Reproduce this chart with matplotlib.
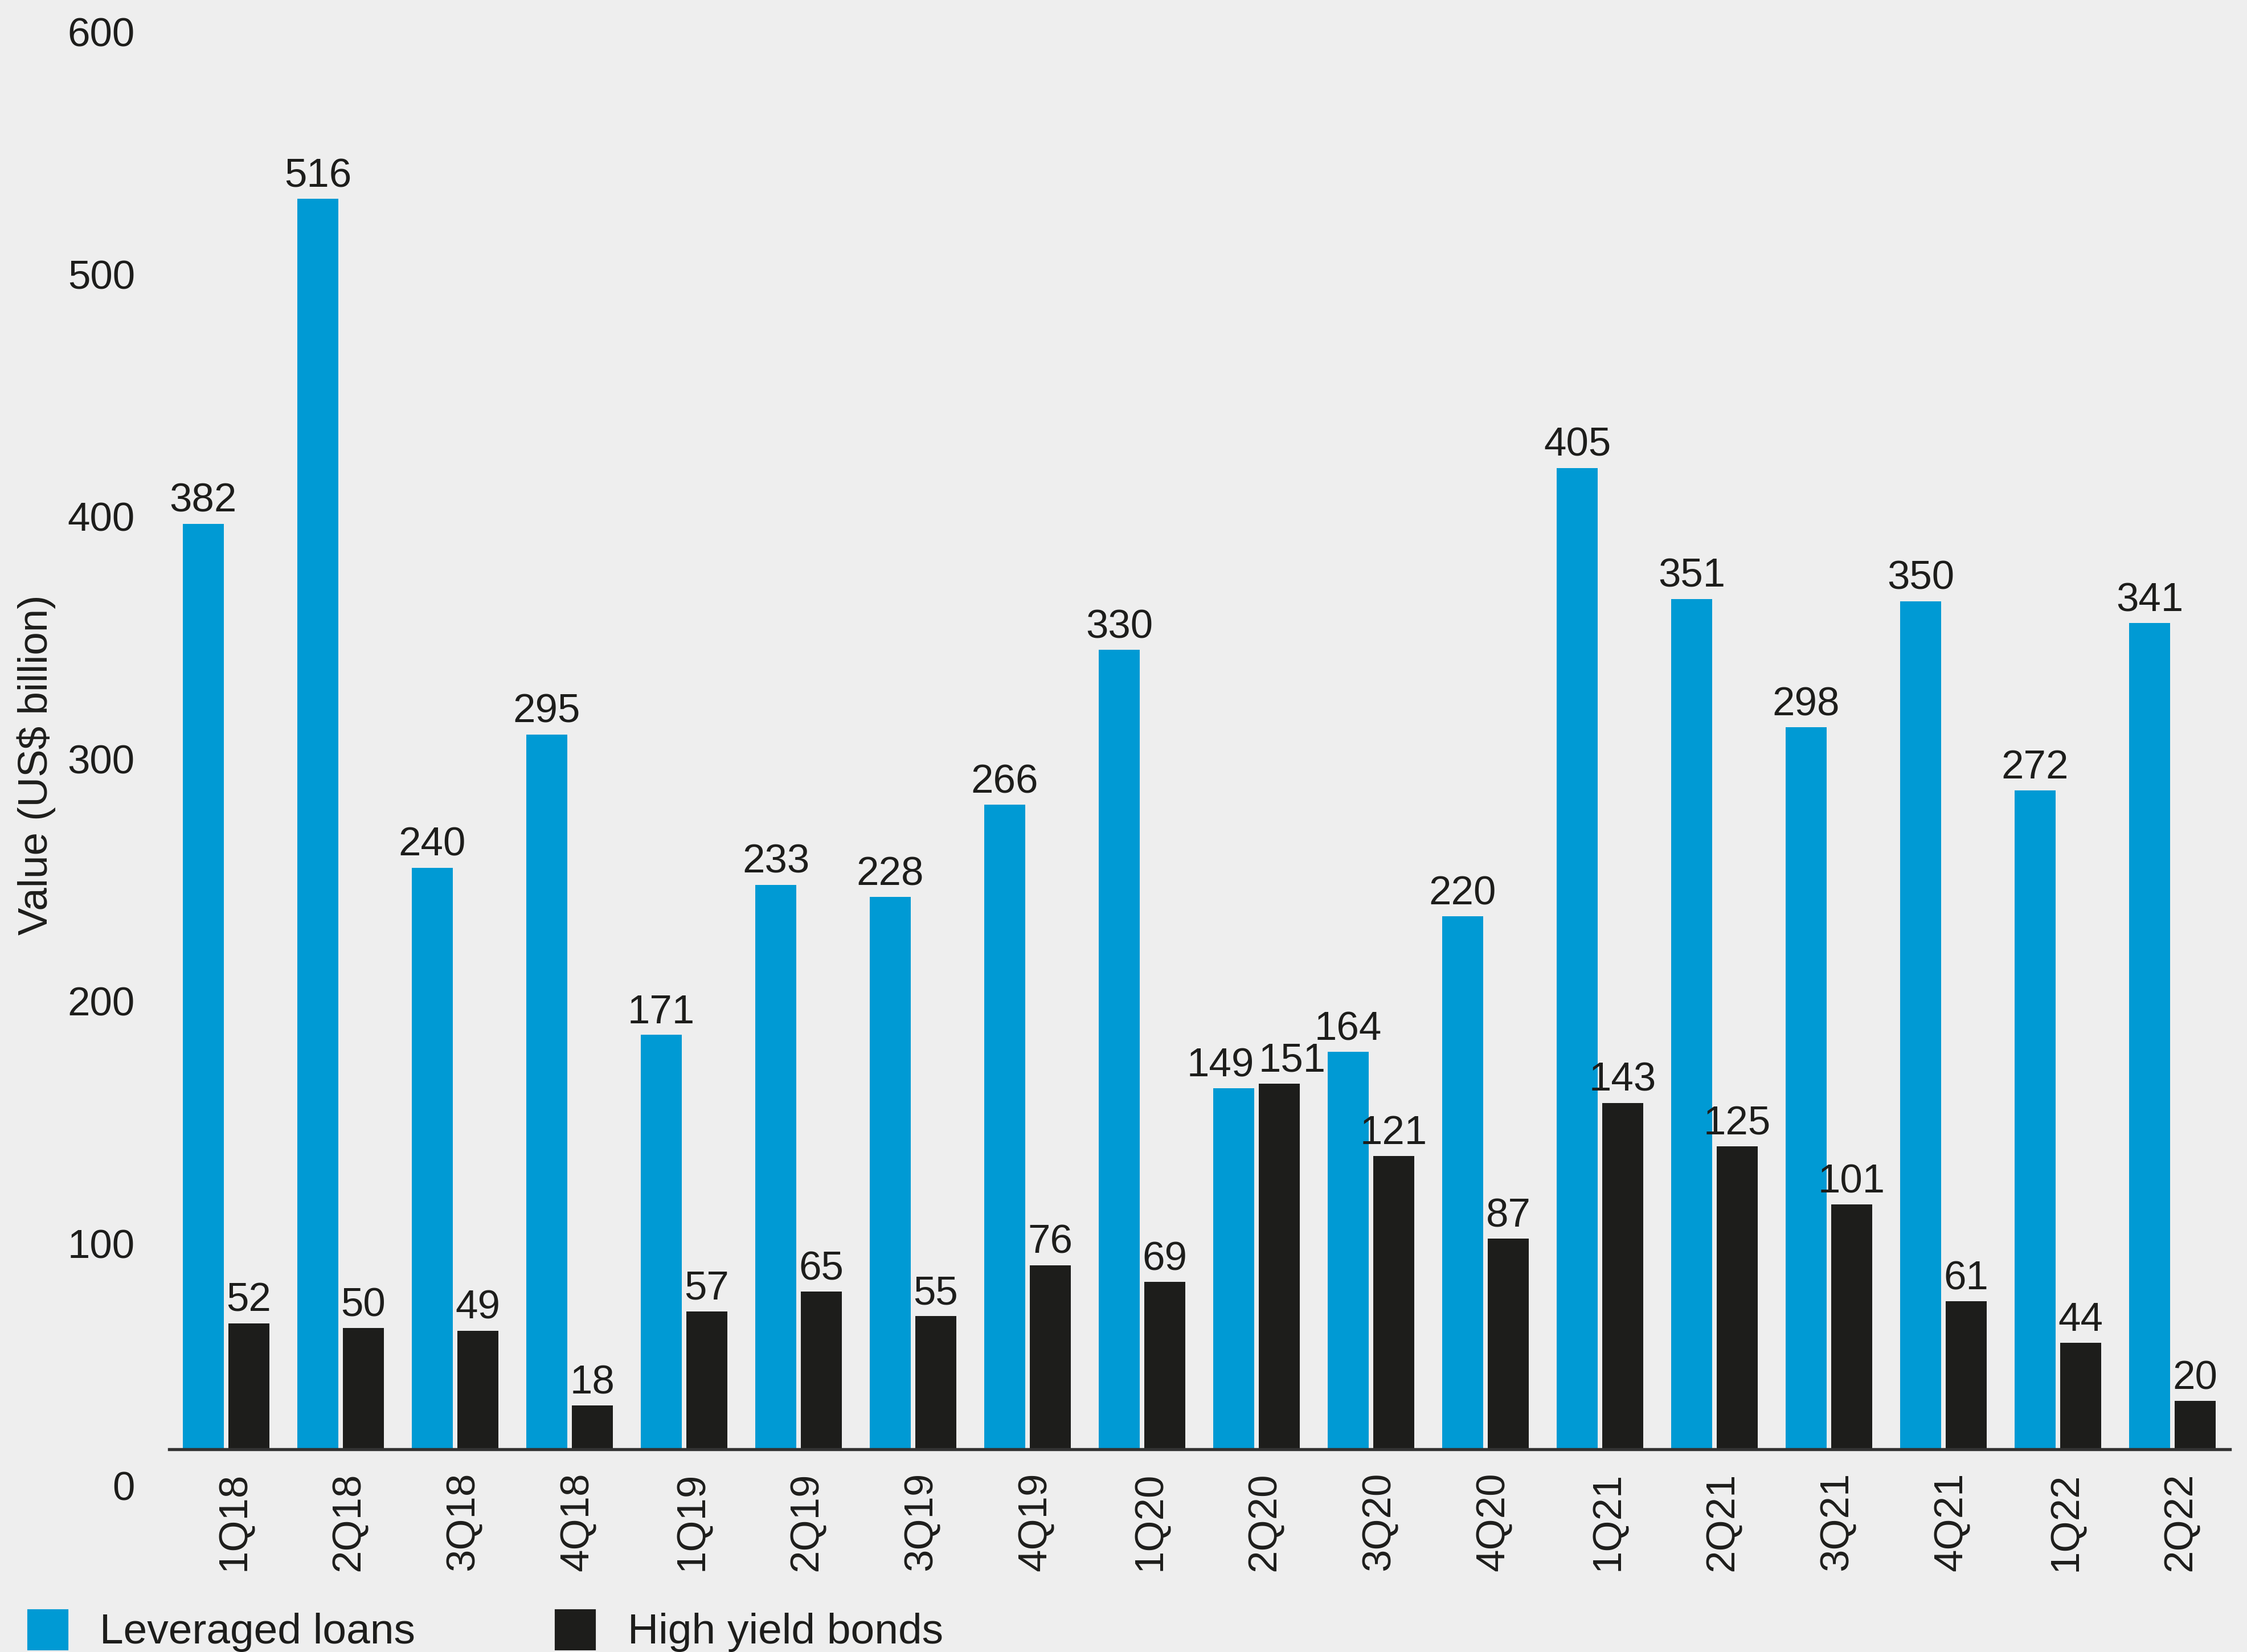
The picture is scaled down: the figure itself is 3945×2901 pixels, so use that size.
import numpy as np
import matplotlib
matplotlib.use("Agg")
import matplotlib.pyplot as plt
from matplotlib.transforms import ScaledTranslation
from matplotlib.patches import Rectangle

quarters = ["1Q18", "2Q18", "3Q18", "4Q18", "1Q19", "2Q19", "3Q19", "4Q19", "1Q20",
            "2Q20", "3Q20", "4Q20", "1Q21", "2Q21", "3Q21", "4Q21", "1Q22", "2Q22"]
leveraged_loans = [382, 516, 240, 295, 171, 233, 228, 266, 330,
                   149, 164, 220, 405, 351, 298, 350, 272, 341]
high_yield_bonds = [52, 50, 49, 18, 57, 65, 55, 76, 69,
                    151, 121, 87, 143, 125, 101, 61, 44, 20]
y_ticks = [0, 100, 200, 300, 400, 500, 600]

BLUE = "#009AD4"
BLACK = "#1D1D1B"
BG = "#EEEEEE"
FS = 17

plt.rcParams["font.family"] = ["Liberation Sans", "DejaVu Sans"]
plt.rcParams["text.color"] = BLACK

W, H = 3945, 2901
fig = plt.figure(figsize=(W / 300, H / 300), dpi=300, facecolor=BG)
ax = fig.add_axes([296.5 / W, 0.1227, 3618 / W, 0.8874], facecolor=BG)

x = np.arange(len(quarters))
bw = 0.363
off = 0.199
ax.bar(x - off, leveraged_loans, bw, color=BLUE, zorder=2)
ax.bar(x + off, high_yield_bonds, bw, color=BLACK, zorder=2)

# crowded group where both labels would collide: push them apart
crowded = {9}
for i, (xi, v) in enumerate(zip(x - off, leveraged_loans)):
    if i in crowded:
        ax.annotate(str(v), (xi + bw / 2, v), xytext=(0, 5), textcoords="offset points",
                    ha="right", va="baseline", fontsize=FS, color=BLACK)
    else:
        ax.annotate(str(v), (xi, v), xytext=(0, 5), textcoords="offset points",
                    ha="center", va="baseline", fontsize=FS, color=BLACK)
for i, (xi, v) in enumerate(zip(x + off, high_yield_bonds)):
    if i in crowded:
        ax.annotate(str(v), (xi - bw / 2, v), xytext=(0, 5), textcoords="offset points",
                    ha="left", va="baseline", fontsize=FS, color=BLACK)
    else:
        ax.annotate(str(v), (xi, v), xytext=(0, 5), textcoords="offset points",
                    ha="center", va="baseline", fontsize=FS, color=BLACK)

ax.set_xlim(-0.5, len(quarters) - 0.5)
ax.set_ylim(0, 605)

for s in ["left", "top", "right"]:
    ax.spines[s].set_visible(False)
ax.spines["bottom"].set_color("#333333")
ax.spines["bottom"].set_linewidth(1.3)
ax.spines["bottom"].set_zorder(3)

ax.set_xticks(x, quarters, rotation=90, fontsize=FS, color=BLACK)
ax.tick_params(axis="x", length=0, pad=9.6)
for lbl in ax.get_xticklabels():
    lbl.set_transform(lbl.get_transform() + ScaledTranslation(3.5 / 72, 0, fig.dpi_scale_trans))

ax.set_yticks(y_ticks, [str(t) for t in y_ticks], fontsize=FS, color=BLACK)
ax.tick_params(axis="y", length=0, pad=14.3)
for lbl in ax.get_yticklabels():
    lbl.set_transform(lbl.get_transform() + ScaledTranslation(0, -15.4 / 72, fig.dpi_scale_trans))

fig.text(64 / W, 1 - 1343 / H, "Value (US$ billion)", rotation=90, ha="center", va="center",
         fontsize=17.5, color=BLACK)

# legend
fig.patches.append(Rectangle((50 / W, 1 - 2896 / H), 68 / W, 68 / H, transform=fig.transFigure,
                             color=BLUE))
fig.text(175 / W, 1 - 2886 / H, "Leveraged loans", ha="left", va="baseline", fontsize=18, color=BLACK)
fig.patches.append(Rectangle((976 / W, 1 - 2896 / H), 68 / W, 68 / H, transform=fig.transFigure,
                             color=BLACK))
fig.text(1102 / W, 1 - 2886 / H, "High yield bonds", ha="left", va="baseline", fontsize=18, color=BLACK)

fig.savefig("out.png", dpi=300, facecolor=BG)
